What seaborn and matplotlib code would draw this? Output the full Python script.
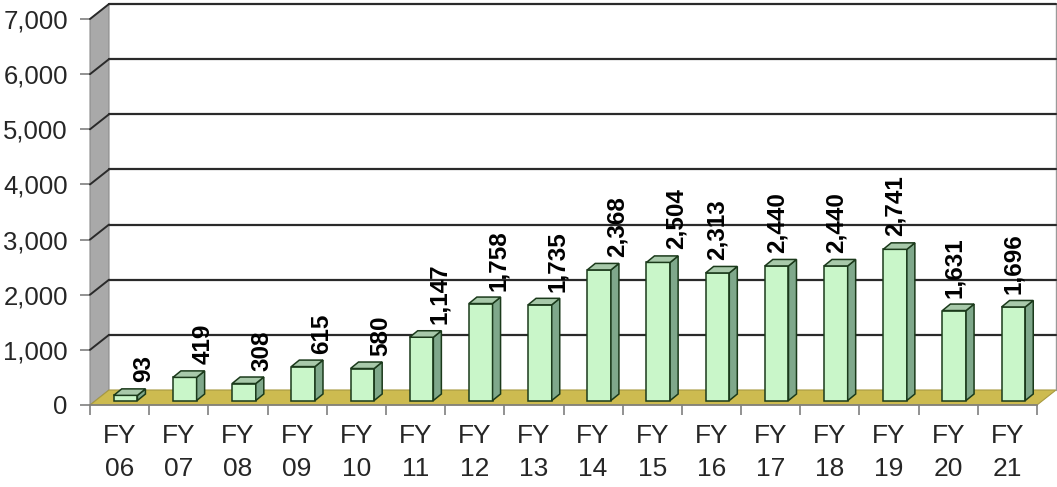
import numpy as np
import pandas as pd
import matplotlib
matplotlib.use("Agg")
import matplotlib.pyplot as plt
import matplotlib.transforms as mtransforms
from matplotlib.patches import Polygon
import seaborn as sns

# ---- data ----
years = ["06", "07", "08", "09", "10", "11", "12", "13", "14", "15",
         "16", "17", "18", "19", "20", "21"]
values = [93, 419, 308, 615, 580, 1147, 1758, 1735, 2368, 2504,
          2313, 2440, 2440, 2741, 1631, 1696]
cat_labels = [f"FY\n{y}" for y in years]
y_ticks = list(range(0, 7001, 1000))

sns.set_style("white")
plt.rcParams["font.family"] = ["Liberation Sans", "DejaVu Sans"]

W, H = 1057, 487
fig = plt.figure(figsize=(W / 100, H / 100), dpi=100)
ax = fig.add_axes([90 / W, (H - 405) / H, (1037 - 90) / W, (405 - 19) / H])
ax.patch.set_visible(False)

df = pd.DataFrame({"cat": cat_labels, "val": values})
sns.barplot(data=df, x="cat", y="val", width=0.4, color="#c9f6c9",
            saturation=1, edgecolor="#1b3a1b", linewidth=1.1, ax=ax, zorder=3)

ax.set_xlim(-0.5, len(values) - 0.5)
ax.set_ylim(0, 7000)

# depth offsets (pixels)
DX, DY = 19, 15          # wall depth
SX, SY = 6, 4.5          # bar placement inside floor depth
BX, BY = 8, 6.5          # bar depth
ident = mtransforms.IdentityTransform()

def disp(x, y):
    return ax.transData.transform((x, y))

x0d, y0d = disp(-0.5, 0)
x1d, _ = disp(len(values) - 0.5, 0)
_, ytop = disp(0, 7000)

# left wall
left_wall = Polygon([(x0d, y0d), (x0d, ytop), (x0d + DX, ytop + DY), (x0d + DX, y0d + DY)],
                    closed=True, facecolor="#a9a9a9", edgecolor="#8c8c8c", lw=0.8,
                    transform=ident, zorder=0.5, clip_on=False)
ax.add_patch(left_wall)
# floor
floor = Polygon([(x0d, y0d), (x1d, y0d), (x1d + DX, y0d + DY), (x0d + DX, y0d + DY)],
                closed=True, facecolor="#cdbb50", edgecolor="#a89a40", lw=0.8,
                transform=ident, zorder=0.6, clip_on=False)
ax.add_patch(floor)
# back wall right edge
ax.plot([x1d + DX, x1d + DX], [y0d + DY, ytop + DY], color="#9a9a9a", lw=1,
        transform=ident, zorder=0.7, clip_on=False)

# gridlines on back wall and left wall
for v in y_ticks[1:]:
    _, yv = disp(0, v)
    ax.plot([x0d + DX, x1d + DX], [yv + DY, yv + DY], color="#2a2a2a", lw=1.6,
            transform=ident, zorder=0.8, clip_on=False)
    ax.plot([x0d, x0d + DX], [yv, yv + DY], color="#2a2a2a", lw=1.4,
            transform=ident, zorder=0.8, clip_on=False)

# shift bars into floor depth, add side and top faces
shift = mtransforms.ScaledTranslation(SX / 100, SY / 100, fig.dpi_scale_trans)
for i, p in enumerate(ax.patches[:]):
    if not isinstance(p, matplotlib.patches.Rectangle):
        continue
    p.set_transform(ax.transData + shift)
    xa, ya = disp(p.get_x(), 0)
    xb, yb = disp(p.get_x() + p.get_width(), p.get_height())
    xa += SX; xb += SX; ya += SY; yb += SY
    side = Polygon([(xb, ya), (xb, yb), (xb + BX, yb + BY), (xb + BX, ya + BY)],
                   closed=True, facecolor="#7fa88b", edgecolor="#1b3a1b", lw=1.1,
                   transform=ident, zorder=3, clip_on=False)
    top = Polygon([(xa, yb), (xb, yb), (xb + BX, yb + BY), (xa + BX, yb + BY)],
                  closed=True, facecolor="#a8c9aa", edgecolor="#1b3a1b", lw=1.1,
                  transform=ident, zorder=3, clip_on=False)
    ax.add_patch(side)
    ax.add_patch(top)

# value labels
for i, v in enumerate(values):
    off = 18 if i < 10 else 0
    tr = ax.transData + mtransforms.ScaledTranslation((SX + off) / 100, (SY + 13) / 100,
                                                      fig.dpi_scale_trans)
    ax.text(i, v, f"{v:,}", rotation=90, ha="center", va="bottom",
            fontsize=17.5, fontweight="bold", color="black", transform=tr, zorder=5)

# axes styling
for s in ["top", "right", "left"]:
    ax.spines[s].set_visible(False)
ax.spines["bottom"].set_color("#7f7f7f")
ax.spines["bottom"].set_linewidth(1.2)
ax.spines["bottom"].set_zorder(1)

ax.set_yticks(y_ticks)
ax.set_yticklabels([f"{t:,}" for t in y_ticks], fontsize=18.5)
ax.tick_params(axis="y", length=7, width=1.2, color="#7f7f7f", pad=9, left=True)

ax.set_xticks(np.arange(-0.5, len(values), 1))
ax.set_xticklabels([])
ax.tick_params(axis="x", which="major", length=7, width=1.2, color="#7f7f7f",
               bottom=True)
ax.set_xticks(np.arange(len(values)), minor=True)
ax.set_xticklabels(cat_labels, minor=True, fontsize=19, linespacing=1.45)
ax.tick_params(axis="x", which="minor", length=0, pad=14)

ax.set_xlabel("")
ax.set_ylabel("")
ax.grid(False)

fig.savefig("out.png", dpi=100, facecolor="white")
